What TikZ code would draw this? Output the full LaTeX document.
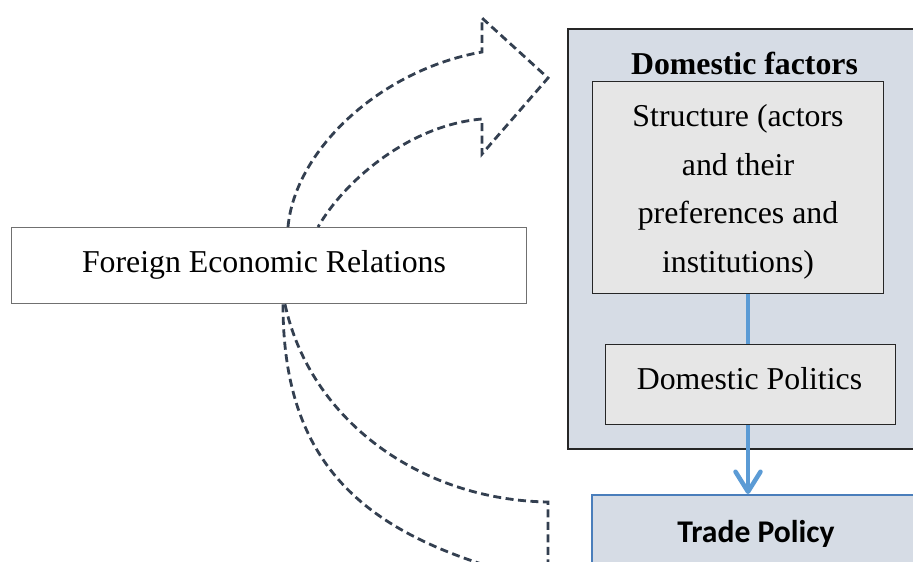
\documentclass[tikz,border=0pt]{standalone}
\usepackage{fontspec}
\setmainfont{Liberation Serif}
\newfontfamily\calibri{Carlito}
\usetikzlibrary{arrows.meta}
\definecolor{dfill}{HTML}{D6DCE5}
\definecolor{gfill}{HTML}{E6E6E6}
\definecolor{dashc}{HTML}{333F50}
\definecolor{bluel}{HTML}{5B9BD5}
\definecolor{tpborder}{HTML}{4A7EBB}
\definecolor{ferborder}{HTML}{707070}
\begin{document}
\begin{tikzpicture}[x=1pt,y=-1pt,
  big/.style={font=\fontsize{31.8}{48.5}\selectfont},
  box/.style={draw, inner sep=0pt, anchor=north west},
  txt/.style={big, anchor=base, inner sep=0pt},
  dashline/.style={draw=dashc, line width=2.8pt, dash pattern=on 8pt off 4.5pt},
  blueline/.style={draw=bluel, line width=4.5pt},
]
\useasboundingbox (0,0) rectangle (913,562);
\begin{scope}
\clip (0,0) rectangle (913,562);
% boxes
\node[box, fill=dfill, draw=black!85, line width=1.8pt, minimum width=368pt, minimum height=420pt] (df) at (567,28) {};
\node[box, fill=gfill, draw=black!85, line width=1.3pt, minimum width=291pt, minimum height=212pt] (sb) at (592,81) {};
\node[box, fill=gfill, draw=black!85, line width=1.3pt, minimum width=290pt, minimum height=80pt] (dp) at (605,344) {};
\node[box, fill=dfill, draw=tpborder, line width=2pt, minimum width=349pt, minimum height=106pt] (tp) at (591,494) {};
\node[box, fill=white, draw=ferborder, line width=1.3pt, minimum width=515pt, minimum height=76pt] (fer) at (11,227) {};
% texts
\node[txt, font=\fontsize{31.8}{48.5}\selectfont\bfseries] (dft) at (744.5,74) {Domestic factors};
\node[txt, align=center] (sbt) at (738,272) {Structure (actors\\and their\\preferences and\\institutions)};
\node[txt] (dpt) at (749.5,389) {Domestic Politics};
\node[txt, font=\fontsize{31.6}{40}\selectfont\calibri\bfseries] (tpt) at (756,542) {Trade Policy};
\node[txt] (fert) at (264,272) {Foreign Economic Relations};
% blue connectors
\coordinate (bx) at (748,0);
\draw[blueline] (sb.south -| bx) -- (dp.north -| bx);
\draw[blueline, -{Straight Barb[length=20pt,width=25pt,round]}] (dp.south -| bx) -- (tp.north -| bx);
% dashed block arrows
\coordinate (ua) at (288,0);
\coordinate (ub) at (318,0);
\coordinate (la) at (285,0);
\coordinate (lb) at (283,0);
\draw[dashline] (fer.north -| ua) .. controls (295,150) and (380,70) .. (482,52) -- (482,18) -- (548,78) -- (482,154) -- (482,119) .. controls (410,125) and (345,180) .. (fer.north -| ub);
\draw[dashline] (fer.south -| la) .. controls (310,420) and (420,500) .. (548,502) -- (548,590);
\draw[dashline] (fer.south -| lb) .. controls (283,480) and (380,545) .. (560,585);
\end{scope}
\end{tikzpicture}
\end{document}
